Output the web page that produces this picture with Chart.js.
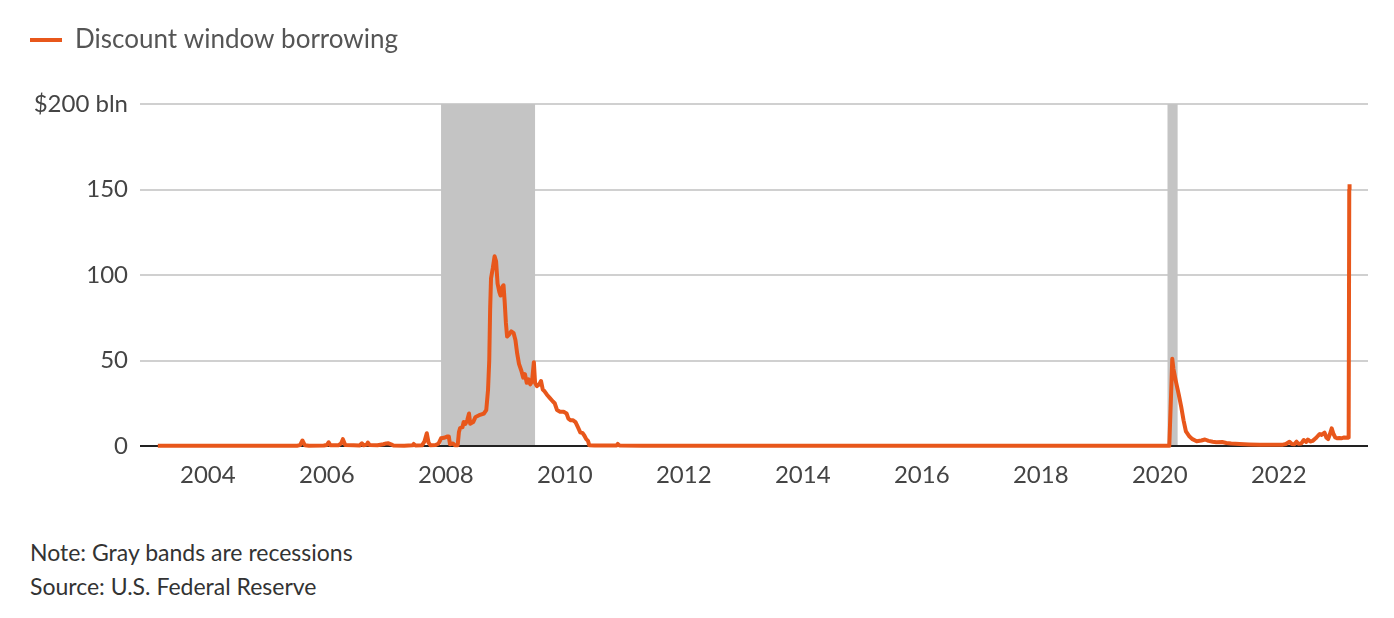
<!DOCTYPE html>
<html>
<head>
<meta charset="utf-8">
<script src="https://cdn.jsdelivr.net/npm/chart.js@4"></script>
<style>
  html, body { margin: 0; padding: 0; background: #fff; }
  #wrap { position: relative; width: 1394px; height: 618px; }
  #chartBox { position: absolute; left: 0; top: 0; width: 1394px; height: 510px; }
  #notes { position: absolute; left: 30px; top: 535px; font-family: Lato, sans-serif; font-size: 23px; color: #333; line-height: 34px; }
</style>
</head>
<body>
<div id="wrap">
  <div id="chartBox"><canvas id="chartCanvas"></canvas></div>
  <div id="notes">
    <div>Note: Gray bands are recessions</div>
    <div>Source: U.S. Federal Reserve</div>
  </div>
</div>
<script>
"use strict";

// weekly-ish readings, $ bln, x as decimal year
const dates = [
    2003.16, 2003.5, 2003.8, 2004.2, 2004.5, 2004.9, 2005.2, 2005.5, 2005.55, 2005.59, 2005.63, 2005.7,
    2005.95, 2006.0, 2006.03, 2006.06, 2006.2, 2006.24, 2006.27, 2006.31, 2006.45, 2006.55, 2006.59, 2006.62,
    2006.67, 2006.69, 2006.72, 2006.85, 2006.95, 2007.0, 2007.03, 2007.08, 2007.12, 2007.3, 2007.44, 2007.46,
    2007.49, 2007.6, 2007.64, 2007.68, 2007.71, 2007.74, 2007.83, 2007.88, 2007.92, 2007.97, 2008.02, 2008.05,
    2008.07, 2008.12, 2008.15, 2008.2, 2008.22, 2008.24, 2008.28, 2008.3, 2008.33, 2008.36, 2008.39, 2008.41,
    2008.46, 2008.5, 2008.56, 2008.64, 2008.68, 2008.71, 2008.73, 2008.745, 2008.76, 2008.79, 2008.82, 2008.845,
    2008.87, 2008.9, 2008.92, 2008.95, 2008.97, 2008.99, 2009.01, 2009.03, 2009.06, 2009.1, 2009.14, 2009.17,
    2009.2, 2009.23, 2009.27, 2009.3, 2009.33, 2009.36, 2009.39, 2009.42, 2009.45, 2009.48, 2009.5, 2009.53,
    2009.57, 2009.6, 2009.63, 2009.66, 2009.7, 2009.75, 2009.8, 2009.83, 2009.87, 2009.92, 2009.98, 2010.03,
    2010.06, 2010.1, 2010.14, 2010.18, 2010.22, 2010.26, 2010.3, 2010.33, 2010.36, 2010.39, 2010.41, 2010.5,
    2010.87, 2010.89, 2010.92, 2011.3, 2012.0, 2013.0, 2014.0, 2015.0, 2016.0, 2017.0, 2018.0, 2019.0,
    2020.16, 2020.19, 2020.21, 2020.23, 2020.27, 2020.32, 2020.36, 2020.4, 2020.44, 2020.5, 2020.55, 2020.62,
    2020.7, 2020.76, 2020.82, 2020.89, 2020.95, 2021.05, 2021.12, 2021.2, 2021.34, 2021.5, 2021.68, 2021.9,
    2022.07, 2022.12, 2022.18, 2022.22, 2022.26, 2022.3, 2022.33, 2022.38, 2022.42, 2022.46, 2022.49, 2022.53,
    2022.57, 2022.62, 2022.66, 2022.69, 2022.72, 2022.77, 2022.8, 2022.83, 2022.86, 2022.89, 2022.92, 2022.95,
    2022.98, 2023.02, 2023.05, 2023.1, 2023.16, 2023.175, 2023.185, 2023.19
];
const borrowing = [
    0.1, 0.1, 0.2, 0.1, 0.2, 0.1, 0.2, 0.2, 0.5, 3.2, 0.5, 0.2,
    0.3, 0.6, 2.2, 0.4, 0.5, 1.5, 4.0, 0.6, 0.4, 0.3, 1.6, 0.4,
    0.8, 2.0, 0.6, 0.4, 1.0, 1.5, 1.6, 1.0, 0.3, 0.2, 0.4, 1.2,
    0.3, 0.4, 2.5, 7.5, 2.0, 0.5, 0.6, 1.5, 4.5, 4.8, 5.5, 5.6,
    1.0, 1.5, 0.5, 0.5, 8, 10.5, 11, 14, 13, 15, 19, 13,
    14, 17, 18, 19, 21, 33, 50, 80, 98, 104, 111, 108,
    95, 90, 88, 93, 94, 84, 72, 64, 65, 67, 66, 62,
    54, 48, 44, 40, 42, 37, 39, 36, 38, 49, 37, 35,
    36, 38, 33, 32, 30, 28, 26, 25, 21, 20, 20, 19,
    16, 15, 15, 14, 11, 8, 7.5, 6, 4, 3, 0.5, 0.3,
    0.3, 1.2, 0.3, 0.2, 0.1, 0.2, 0.1, 0.1, 0.2, 0.1, 0.1, 0.1,
    0.1, 30, 51, 45, 38, 30, 23, 15, 8.5, 5.5, 4, 2.8,
    3.2, 3.8, 3, 2.5, 2.2, 2.3, 1.8, 1.5, 1.2, 0.9, 0.7, 0.8,
    0.8, 1.2, 2.5, 1.2, 1.0, 2.5, 1.3, 1.5, 3.5, 2.4, 3.8, 2.6,
    3.0, 4.5, 6, 7, 6.5, 7.8, 5, 4, 7, 10.3, 7, 5,
    4.5, 4.7, 4.5, 5, 4.8, 5.0, 150, 153
];

const recessionStart = [2007.92, 2020.13];
const recessionEnd = [2009.5, 2020.3];

const xTicks = [2004, 2006, 2008, 2010, 2012, 2014, 2016, 2018, 2020, 2022];
const yTicks = [0, 50, 100, 150, 200];
const yTickLabels = ['0', '50', '100', '150', '$200 bln'];

const orange = '#e8571b';
const font = 'Lato';

// gray recession bands + zero line, under the series
const bands = {
    id: 'bands',
    beforeDatasetsDraw(chart) {
        const { ctx, chartArea, scales } = chart;
        ctx.save();
        ctx.fillStyle = '#c4c4c4';
        for (let i = 0; i < recessionStart.length; i++) {
            const x0 = scales.x.getPixelForValue(recessionStart[i]);
            const x1 = scales.x.getPixelForValue(recessionEnd[i]);
            ctx.fillRect(x0, chartArea.top, x1 - x0, chartArea.bottom - chartArea.top);
        }
        const y0 = scales.y.getPixelForValue(0);
        ctx.strokeStyle = '#222';
        ctx.lineWidth = 2;
        ctx.beginPath();
        ctx.moveTo(chartArea.left, y0);
        ctx.lineTo(chartArea.right, y0);
        ctx.stroke();
        ctx.restore();
    }
};

// fixed room for the legend row
const legendRoom = {
    id: 'legendRoom',
    afterInit(chart) {
        const fit = chart.legend.fit;
        chart.legend.fit = function () {
            fit.call(this);
            this.height = 77;
        };
    }
};

const ctx = document.getElementById('chartCanvas').getContext('2d');
const plot = new Chart(ctx, {
    type: 'line',
    data: {
        datasets: [
            {
                label: 'Discount window borrowing',
                data: dates.map((d, i) => ({ x: d, y: borrowing[i] })),
                borderColor: orange,
                backgroundColor: orange,
                borderWidth: 4,
                pointRadius: 0,
                tension: 0,
                borderJoinStyle: 'round',
                clip: 6
            }
        ]
    },
    options: {
        responsive: true,
        maintainAspectRatio: false,
        animation: false,
        layout: { padding: { left: 30, right: 26, top: 27, bottom: 0 } },
        plugins: {
            tooltip: { enabled: false },
            legend: {
                align: 'start',
                labels: {
                    boxWidth: 32,
                    boxHeight: 4,
                    padding: 0,
                    color: '#555',
                    font: { family: font, size: 26 },
                    generateLabels: (chart) =>
                        Chart.defaults.plugins.legend.labels.generateLabels(chart)
                            .map(l => ({ ...l, lineWidth: 0, fillStyle: orange }))
                }
            }
        },
        scales: {
            x: {
                type: 'linear',
                min: 2002.86,
                max: 2023.5,
                grid: { display: false },
                border: { display: false },
                afterBuildTicks: (axis) => { axis.ticks = xTicks.map(v => ({ value: v })); },
                afterFit: (s) => { s.height = 64; },
                ticks: {
                    padding: 7,
                    color: '#444',
                    font: { family: font, size: 24 },
                    callback: (v) => String(v)
                }
            },
            y: {
                min: 0,
                max: 200,
                grid: { color: '#d0d0d0', lineWidth: 2, drawTicks: false },
                border: { display: false },
                afterBuildTicks: (axis) => { axis.ticks = yTicks.map(v => ({ value: v })); },
                afterFit: (s) => { s.width = 110; },
                ticks: {
                    padding: 12,
                    color: '#444',
                    font: { family: font, size: 24 },
                    callback: (v) => yTickLabels[yTicks.indexOf(v)]
                }
            }
        }
    },
    plugins: [bands, legendRoom]
});
</script>
</body>
</html>
